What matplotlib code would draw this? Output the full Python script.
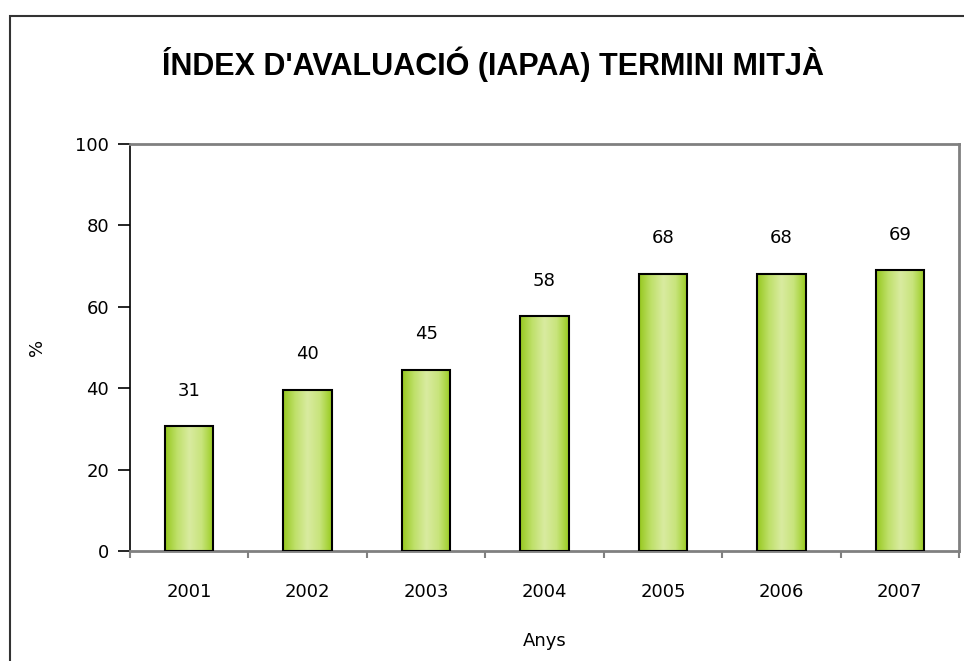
import numpy as np
import matplotlib.pyplot as plt
from matplotlib.colors import LinearSegmentedColormap
from matplotlib.patches import Rectangle

# dades
anys = ['2001', '2002', '2003', '2004', '2005', '2006', '2007']
valors = [30.7, 39.6, 44.5, 57.7, 68.1, 68.1, 69.0]
etiquetes = ['31', '40', '45', '58', '68', '68', '69']
yticks = [0, 20, 40, 60, 80, 100]

fig = plt.figure(figsize=(9.64, 6.61), dpi=100)
ax = fig.add_axes([130/964, 1 - 551/661, 829/964, 407/661])

# marc exterior del grafic (retallat a la dreta i a baix)
fig.patches.append(Rectangle((10/964, -0.1), 1.2, 1 - 16/661 + 0.1, transform=fig.transFigure,
                             fill=False, edgecolor='#333333', lw=1.5))

x = np.arange(len(anys))
bars = ax.bar(x, valors, width=0.41, color='none', edgecolor='black', linewidth=1.5, zorder=3)

# degradat horitzontal de les barres
cmap = LinearSegmentedColormap.from_list('verd', ['#96c81e', '#bfe06a', '#d9eba0', '#c8e47c', '#98cb1e'])
grad = np.linspace(0, 1, 256).reshape(1, -1)
for b in bars:
    x0, y0 = b.get_x(), b.get_y()
    w, h = b.get_width(), b.get_height()
    im = ax.imshow(grad, cmap=cmap, aspect='auto', extent=[x0, x0 + w, y0, y0 + h], zorder=2)
    im.set_clip_path(b)

for xi, v, t in zip(x, valors, etiquetes):
    ax.annotate(t, (xi, v), xytext=(0, 19), textcoords='offset points', ha='center', va='bottom', fontsize=13)

ax.set_xlim(-0.5, len(anys) - 0.5)
ax.set_ylim(0, 100)
ax.set_yticks(yticks)
ax.set_yticklabels([str(t) for t in yticks], fontsize=13)
ax.set_xticks(x)
ax.set_xticklabels(anys, fontsize=13)
ax.set_xticks(np.arange(-0.5, len(anys)), minor=True)
ax.tick_params(axis='x', which='major', length=0, pad=23)
ax.tick_params(axis='x', which='minor', length=5, color='#808080', width=1.5)
ax.tick_params(axis='y', length=9, width=1.2, pad=6)

for s in ['top', 'right', 'bottom']:
    ax.spines[s].set_color('#808080')
    ax.spines[s].set_linewidth(2)
ax.spines['left'].set_color('black')
ax.spines['left'].set_linewidth(1.2)

ax.set_xlabel('Anys', fontsize=13, labelpad=22)
ax.set_ylabel('%', fontsize=13)
ax.yaxis.set_label_coords((46 - 130) / 829, 0.5)

fig.text(493/964, 1 - 64/661, "ÍNDEX D'AVALUACIÓ (IAPAA) TERMINI MITJÀ", ha='center', va='center',
         fontsize=22, fontweight='bold', family='Liberation Sans')

fig.savefig('out.png', dpi=100)
